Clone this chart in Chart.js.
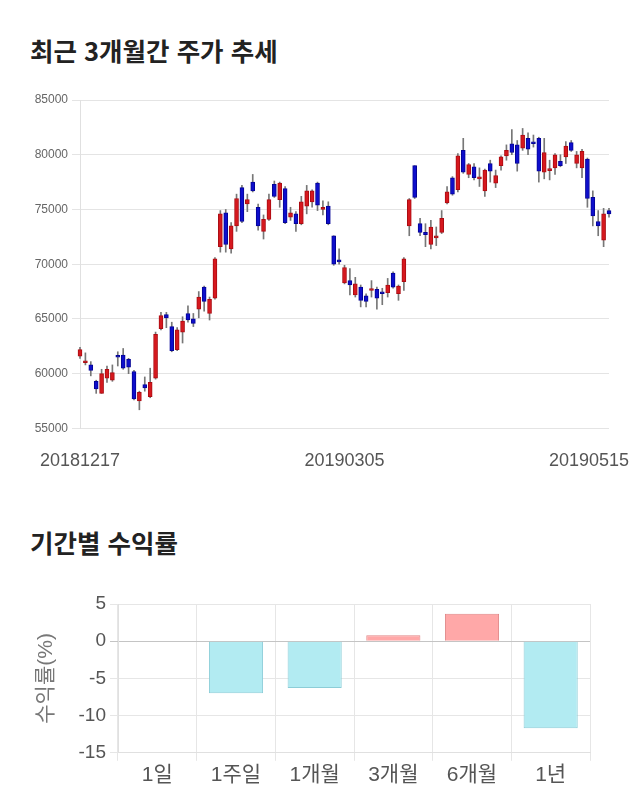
<!DOCTYPE html>
<html lang="ko">
<head>
<meta charset="utf-8">
<script src="https://cdn.jsdelivr.net/npm/chart.js"></script>
<style>
  body { margin: 0; width: 640px; height: 810px; background: #fff; position: relative; overflow: hidden; }
  .title { position: absolute; left: 30px; font-family: 'Noto Sans CJK KR', sans-serif; font-weight: 700; font-size: 25.5px; color: #222; line-height: 1; }
  .box { position: absolute; left: 0; width: 640px; }
</style>
</head>
<body>
<div class="title" style="top:37px">최근 3개월간 주가 추세</div>
<div class="box" style="top:85px;height:409px"><canvas id="candles"></canvas></div>
<div class="title" style="top:529px">기간별 수익률</div>
<div class="box" style="top:580px;height:210px"><canvas id="returns"></canvas></div>
<script>
// trading days shown on the price chart
const dates = [
  '20181217','20181218','20181219','20181220','20181221','20181224','20181226','20181227','20181228',
  '20190102','20190103','20190104','20190107','20190108','20190109','20190110','20190111','20190114','20190115',
  '20190116','20190117','20190118','20190121','20190122','20190123','20190124','20190125','20190128','20190129',
  '20190130','20190131','20190201','20190207','20190208','20190211','20190212','20190213','20190214','20190215',
  '20190218','20190219','20190220','20190221','20190222','20190225','20190226','20190227','20190228','20190304',
  '20190305','20190306','20190307','20190308','20190311','20190312','20190313','20190314','20190315','20190318',
  '20190319','20190320','20190321','20190322','20190325','20190326','20190327','20190328','20190329','20190401',
  '20190402','20190403','20190404','20190405','20190408','20190409','20190410','20190411','20190412','20190415',
  '20190416','20190417','20190418','20190419','20190422','20190423','20190424','20190425','20190426','20190429',
  '20190430','20190502','20190503','20190507','20190508','20190509','20190510','20190513','20190514','20190515'
];
const shownDates = ['20181217', '20190305', '20190515'];

const open = [
  61600, 61000, 60800, 59300, 58200, 59600, 59400, 61600, 61700, 61300,
  60200, 57500, 59000, 57900, 59600, 64100, 65400, 64300, 62200, 63800,
  65500, 65000, 65900, 67900, 65500, 66900, 71600, 74700, 71400, 73500,
  77000, 75500, 77500, 75200, 73000, 74100, 77300, 75900, 76900, 74300,
  74600, 73700, 75300, 75700, 77400, 75000, 75300, 72600, 70400, 68300,
  68500, 67200, 67900, 67100, 67600, 67700, 67400, 67400, 69200, 67300,
  68400, 73500, 79000, 73700, 72900, 71800, 72400, 72900, 75600, 77900,
  76800, 80400, 78200, 78900, 77800, 76700, 79200, 77400, 79000, 79900,
  81000, 80900, 80600, 81500, 81100, 81500, 78400, 78550, 78800, 79400,
  79800, 81100, 79200, 78800, 79600, 76100, 73900, 72200, 74900
];
const high = [
  62400, 61900, 61100, 59400, 60400, 60700, 60800, 62000, 62300, 61400,
  60300, 58400, 59700, 60500, 63800, 65600, 65600, 64700, 64200, 65200,
  66200, 65500, 67500, 68000, 67000, 70600, 74900, 75000, 73800, 76400,
  77200, 76400, 78200, 75500, 74500, 76400, 77600, 77500, 77100, 75200,
  74800, 76200, 77200, 76800, 77500, 75800, 75700, 72600, 71400, 69900,
  69600, 68800, 68100, 67300, 68500, 67900, 67800, 68700, 69300, 68100,
  70600, 76000, 79000, 74200, 73700, 74000, 73400, 74900, 77100, 78000,
  80100, 81500, 79200, 79200, 78800, 78700, 79500, 78600, 79900, 80900,
  82300, 81300, 82400, 82000, 81800, 81600, 81500, 79500, 80100, 80000,
  81200, 81300, 80300, 80500, 79700, 76700, 74900, 75100, 75100
];
const low = [
  61400, 60800, 59800, 58200, 58200, 59200, 59300, 60700, 60400, 60000,
  57600, 56700, 58400, 57800, 59500, 64000, 64200, 62000, 62100, 62800,
  64700, 64300, 65100, 65700, 64900, 66800, 71100, 71100, 71000, 73000,
  73800, 74800, 76600, 73100, 72300, 74000, 76100, 75200, 73700, 74000,
  73000, 73600, 74600, 75200, 74900, 74500, 73600, 69900, 70000, 68200,
  67200, 67000, 66100, 66100, 67000, 65900, 66300, 67000, 67800, 66700,
  67600, 72600, 76000, 72600, 71600, 71400, 71700, 72800, 75500, 76300,
  76600, 78300, 77900, 77700, 77100, 76200, 77500, 77000, 78600, 79500,
  80000, 78500, 80400, 80000, 80700, 77500, 77800, 77700, 78200, 78900,
  79200, 80300, 78800, 77900, 75200, 73500, 72600, 71600, 74300
];
const close = [
  62200, 61100, 60300, 58600, 60000, 60400, 60100, 61500, 60500, 60600,
  57700, 58300, 58700, 59200, 63600, 65300, 65100, 62100, 64000, 64800,
  64900, 64600, 67000, 66600, 66800, 70500, 74600, 71800, 73500, 76000,
  73900, 75900, 76700, 73500, 74100, 75900, 76200, 77400, 73800, 74700,
  73700, 75700, 76700, 76700, 75400, 75200, 73700, 70000, 70200, 69700,
  68100, 68200, 66700, 66600, 67700, 66900, 67300, 68100, 67900, 68000,
  70500, 75900, 76100, 72900, 72700, 73400, 72450, 74200, 76600, 76400,
  79900, 78400, 79100, 77900, 77850, 78600, 78500, 78100, 79800, 80400,
  80200, 79200, 81800, 80500, 81000, 78500, 80200, 78650, 80000, 79000,
  80800, 80400, 80000, 80300, 76000, 74400, 73500, 74600, 74600
];

// period returns (%)
const periods = ['1일', '1주일', '1개월', '3개월', '6개월', '1년'];
const returns = [0, -7.0, -6.3, 0.8, 3.7, -11.7];

const UP = 'rgb(214,24,30)', UP_EDGE = 'rgb(170,12,18)';
const DOWN = 'rgb(14,14,204)', DOWN_EDGE = 'rgb(4,4,150)';
const numFont = "'Liberation Sans', 'Noto Sans CJK KR', sans-serif";

const isUp = close.map((c, i) => c >= open[i]);

new Chart(document.getElementById('candles'), {
  type: 'bar',
  data: {
    labels: dates,
    datasets: [
      {
        // candle bodies
        data: open.map((o, i) => [o, close[i]]),
        backgroundColor: isUp.map(u => u ? UP : DOWN),
        borderColor: isUp.map(u => u ? UP_EDGE : DOWN_EDGE),
        borderWidth: 1,
        borderSkipped: false,
        barThickness: 4,
        minBarLength: 2,
        grouped: false,
        clip: false,
        order: 0
      },
      {
        // wicks
        data: low.map((l, i) => [l, high[i]]),
        backgroundColor: '#777',
        barThickness: 1,
        grouped: false,
        clip: false,
        order: 1
      }
    ]
  },
  options: {
    responsive: true,
    maintainAspectRatio: false,
    animation: false,
    layout: { padding: { left: 35, right: 31, top: 15, bottom: 0 } },
    plugins: { legend: { display: false }, tooltip: { enabled: false } },
    scales: {
      x: {
        offset: false,
        grid: { display: false, drawTicks: false },
        border: { display: false },
        ticks: {
          autoSkip: false,
          maxRotation: 0,
          padding: 22,
          color: '#555',
          font: { family: numFont, size: 18 },
          callback: function (v, i) {
            const d = this.getLabelForValue(v);
            if (!shownDates.includes(d)) return '';
            // last label is pulled inside the canvas like the original
            return i === dates.length - 1 ? d + '        ' : d;
          }
        },
        afterFit: s => { s.paddingLeft = 0; s.paddingRight = 0; }
      },
      y: {
        min: 55000,
        max: 85000,
        ticks: { stepSize: 5000, padding: 4, color: '#666', font: { family: numFont, size: 12 }, callback: v => String(v) },
        grid: { color: '#e4e4e4', tickLength: 8 },
        border: { color: '#e0e0e0' },
        afterFit: s => { s.width = 45; }
      }
    }
  }
});

new Chart(document.getElementById('returns'), {
  type: 'bar',
  data: {
    labels: periods,
    datasets: [{
      data: returns,
      backgroundColor: returns.map(r => r >= 0 ? 'rgb(255,168,168)' : 'rgb(178,235,242)'),
      borderColor: returns.map(r => r >= 0 ? 'rgb(225,135,135)' : 'rgb(140,205,215)'),
      borderWidth: 1,
      barPercentage: 0.86,
      categoryPercentage: 0.8
    }]
  },
  options: {
    responsive: true,
    maintainAspectRatio: false,
    animation: false,
    layout: { padding: { left: 30, right: 50, top: 24, bottom: 0 } },
    plugins: { legend: { display: false }, tooltip: { enabled: false } },
    scales: {
      x: {
        grid: { color: '#e6e6e6', tickLength: 8 },
        border: { color: '#e0e0e0' },
        ticks: { padding: 2, color: '#555', font: { family: numFont, size: 21 } }
      },
      y: {
        min: -15,
        max: 5,
        ticks: { stepSize: 5, padding: 4, color: '#555', font: { family: numFont, size: 19 } },
        grid: { color: c => c.tick && c.tick.value === 0 ? '#c4c4c4' : '#e6e6e6', tickLength: 8 },
        border: { color: '#e0e0e0' },
        title: { display: true, text: '수익률(%)', color: '#777', font: { family: numFont, size: 21 }, padding: { top: 4, bottom: 0 } },
        afterFit: s => { s.width = 88; }
      }
    }
  }
});
</script>
</body>
</html>
